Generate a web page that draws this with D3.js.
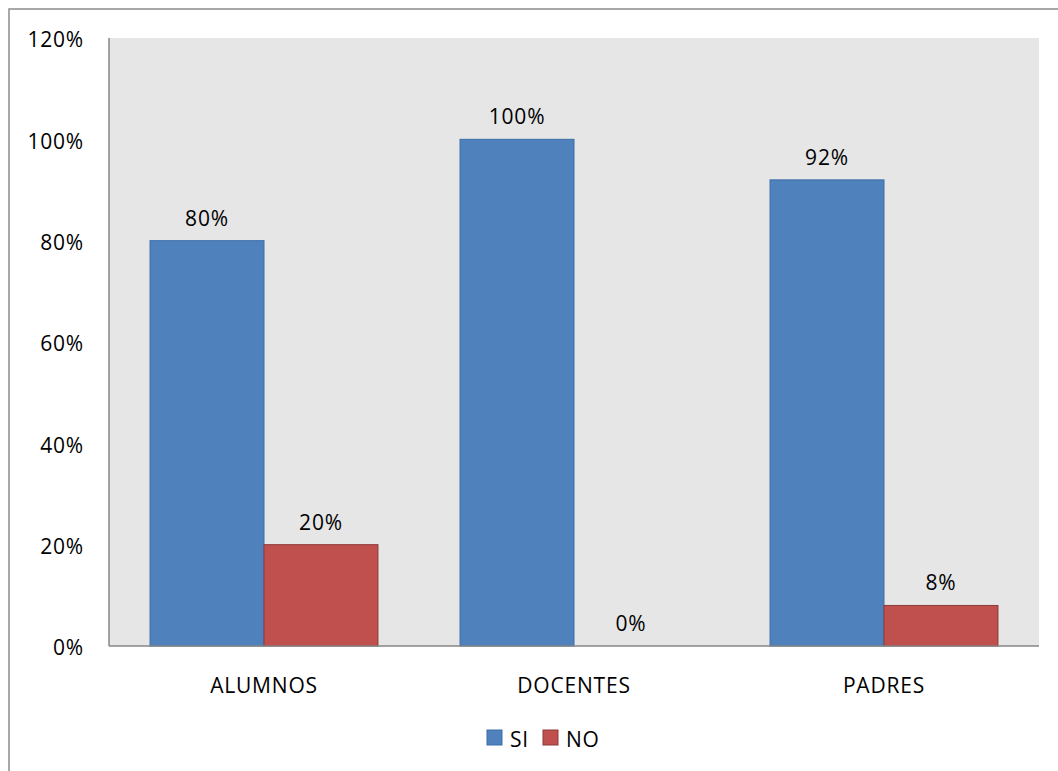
<!DOCTYPE html>
<html>
<head>
<meta charset="utf-8">
<script src="https://cdn.jsdelivr.net/npm/d3@7"></script>
<style>
  body { margin: 0; background: #fff; }
  text { font-family: "Open Sans", Lato, sans-serif; fill: #000; letter-spacing: 0.8px; }
</style>
</head>
<body>
<div id="chart"></div>
<script>
const categories = ["ALUMNOS", "DOCENTES", "PADRES"];
const seriesNames = ["SI", "NO"];
const siValues = [0.80, 1.00, 0.92];
const noValues = [0.20, 0.00, 0.08];
const yTicks = [0, 0.2, 0.4, 0.6, 0.8, 1.0, 1.2];

const colors = { SI: "#4F81BD", NO: "#C0504D" };
const strokes = { SI: "#3B6EA8", NO: "#8E3A38" };

const width = 1058, height = 771;
const margin = { top: 38, right: 19, bottom: 125, left: 109 };
const fontSize = "21px";

const svg = d3.select("#chart").append("svg")
    .attr("width", width)
    .attr("height", height);

// outer chart border (right/bottom run off the picture)
svg.append("rect")
    .attr("x", 9).attr("y", 9)
    .attr("width", width + 10).attr("height", height + 10)
    .attr("fill", "none")
    .attr("stroke", "#8c8c8c")
    .attr("stroke-width", 1.5);

const plotW = width - margin.left - margin.right;
const plotH = height - margin.top - margin.bottom;

const g = svg.append("g").attr("transform", `translate(${margin.left},${margin.top})`);

g.append("rect")
    .attr("width", plotW).attr("height", plotH)
    .attr("fill", "#E6E6E6");

const x0 = d3.scaleBand().domain(categories).range([0, plotW]).paddingInner(0).paddingOuter(0);
const x1 = d3.scaleBand().domain(seriesNames).range([0, x0.bandwidth()]).paddingInner(0).paddingOuter(0.36);
const y = d3.scaleLinear().domain([0, 1.2]).range([plotH, 0]);

const rows = categories.map((c, i) => ({ cat: c, vals: [{ key: "SI", v: siValues[i] }, { key: "NO", v: noValues[i] }] }));

const groups = g.selectAll(".grp").data(rows).enter().append("g")
    .attr("transform", d => `translate(${x0(d.cat)},0)`);

groups.selectAll("rect").data(d => d.vals).enter().append("rect")
    .attr("x", d => x1(d.key))
    .attr("y", d => y(d.v))
    .attr("width", x1.bandwidth())
    .attr("height", d => plotH - y(d.v))
    .attr("fill", d => colors[d.key])
    .attr("stroke", d => d.v > 0 ? strokes[d.key] : "none")
    .attr("stroke-width", 1);

// data labels
groups.selectAll(".lbl").data(d => d.vals).enter().append("text")
    .attr("x", d => x1(d.key) + x1.bandwidth() / 2)
    .attr("y", d => y(d.v) - 15)
    .attr("text-anchor", "middle")
    .style("font-size", fontSize)
    .text(d => Math.round(d.v * 100) + "%");

// axes lines
g.append("line").attr("x1", 0).attr("x2", 0).attr("y1", 0).attr("y2", plotH)
    .attr("stroke", "#868686").attr("stroke-width", 1.5);
g.append("line").attr("x1", 0).attr("x2", plotW).attr("y1", plotH).attr("y2", plotH)
    .attr("stroke", "#868686").attr("stroke-width", 1.5);

// y tick labels
g.selectAll(".ytick").data(yTicks).enter().append("text")
    .attr("x", -25)
    .attr("y", d => y(d) + 2)
    .attr("dy", "0.35em")
    .attr("text-anchor", "end")
    .style("font-size", fontSize)
    .text(d => Math.round(d * 100) + "%");

// category labels
g.selectAll(".xlbl").data(categories).enter().append("text")
    .attr("x", d => x0(d) + x0.bandwidth() / 2)
    .attr("y", plotH + 47)
    .attr("text-anchor", "middle")
    .style("font-size", fontSize)
    .text(d => d);

// legend
const legend = svg.append("g").attr("transform", "translate(487,730)");
const legItems = [{ key: "SI", x: 0 }, { key: "NO", x: 56 }];
legItems.forEach(it => {
    legend.append("rect")
        .attr("x", it.x).attr("y", 0)
        .attr("width", 15).attr("height", 15)
        .attr("fill", colors[it.key])
        .attr("stroke", strokes[it.key]);
    legend.append("text")
        .attr("x", it.x + 23).attr("y", 10)
        .attr("dy", "0.35em")
        .style("font-size", fontSize)
        .text(it.key);
});
</script>
</body>
</html>
